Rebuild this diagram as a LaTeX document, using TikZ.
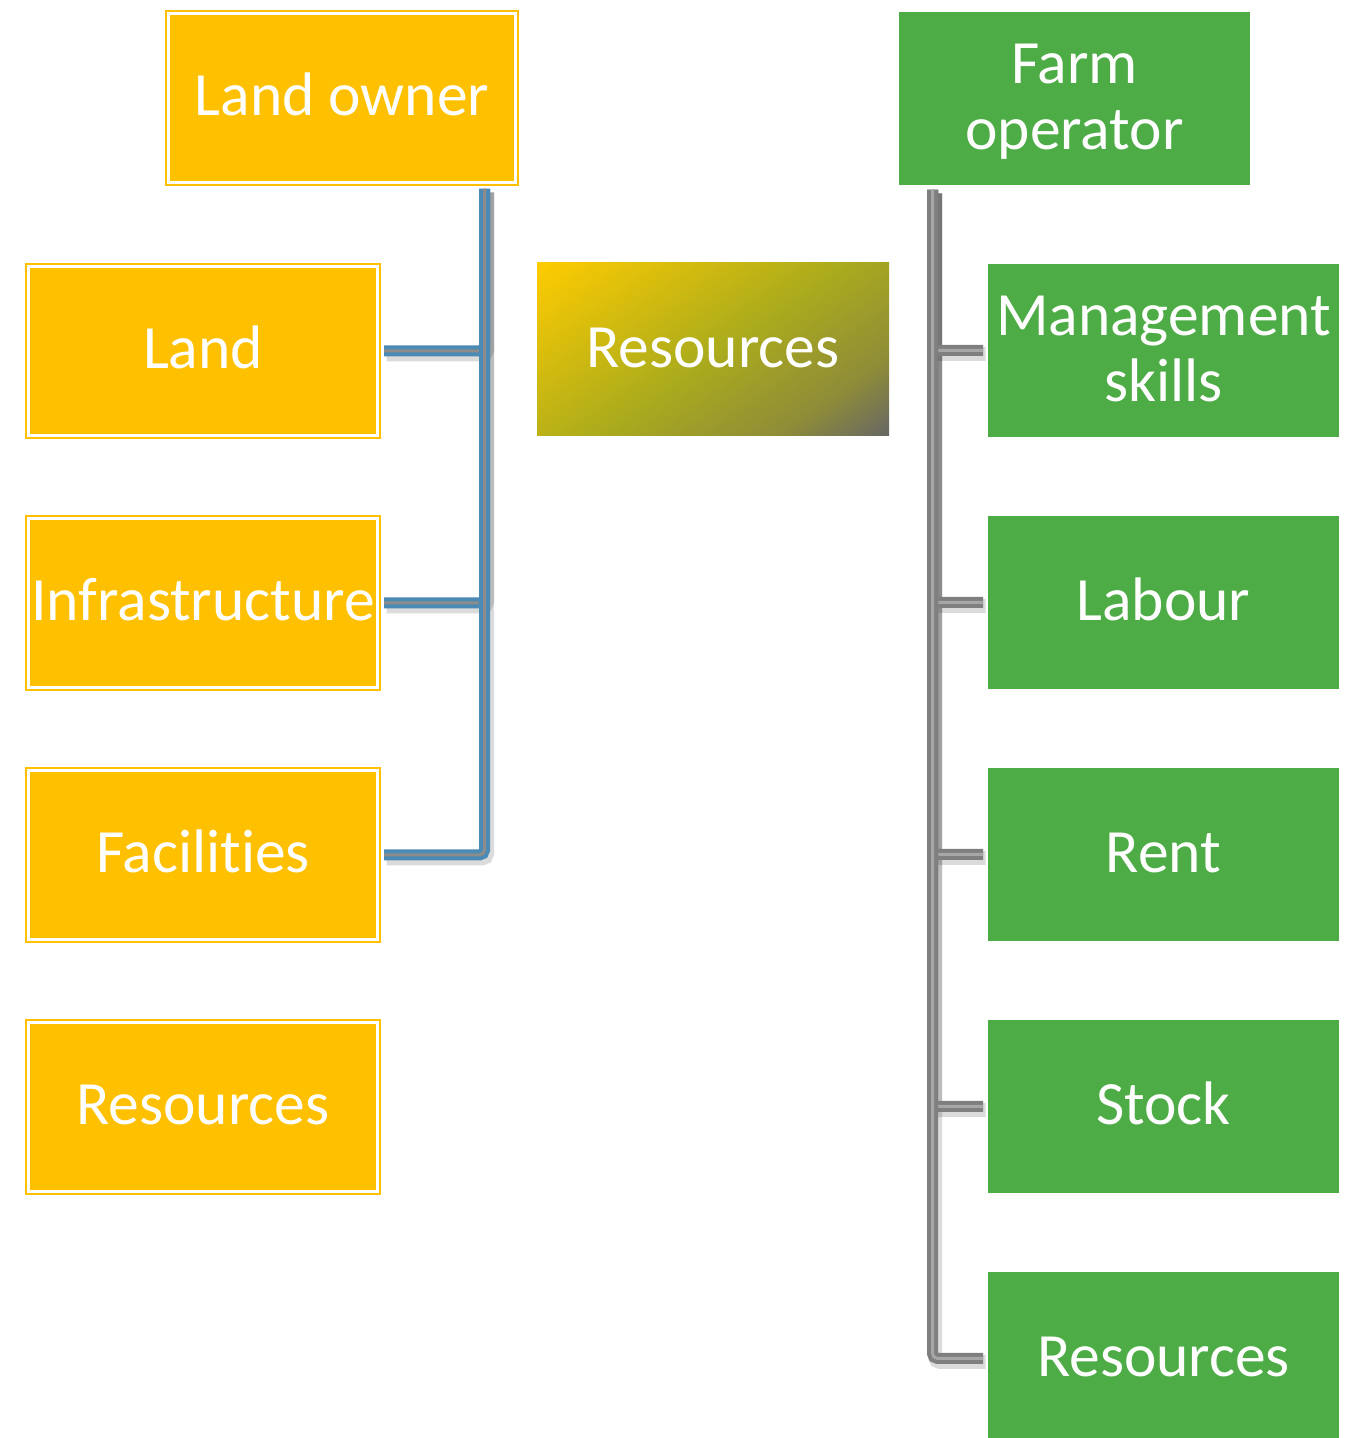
\documentclass[tikz,border=0pt]{standalone}
\usepackage{fontspec}
\setmainfont{Carlito}[Ligatures=NoCommon]
\usepackage{xcolor}
\usepackage{tikz}
\definecolor{FMYellow}{HTML}{FFC000}
\definecolor{FMGreen}{HTML}{4EAC47}
\definecolor{FMBlue}{HTML}{4A8AB5}
\definecolor{FMCore}{HTML}{8C8C8C}
\definecolor{FMGray}{HTML}{7F7F7F}
\definecolor{FMLight}{HTML}{A6A6A6}
\definecolor{FMGold}{HTML}{FFCC00}
\definecolor{FMOlive}{HTML}{ACAC1C}
\definecolor{FMDusk}{HTML}{8E8C38}
\definecolor{FMSlate}{HTML}{666666}
\pgfdeclarehorizontalshading{sharegrad}{100bp}{color(0bp)=(FMGold); color(15bp)=(FMGold); color(50bp)=(FMOlive); color(72bp)=(FMDusk); color(85bp)=(FMSlate); color(100bp)=(FMSlate)}

\begin{document}
\begin{tikzpicture}[x=1cm,y=1cm,
  boxtext/.style={text=white,font=\fontsize{35}{38}\selectfont,align=center,inner sep=0pt,outer sep=0pt,text height=1.1cm,text depth=.38cm},
  twoline/.style={text height=2.5cm,text depth=.44cm},
  ownbox/.style={boxtext,fill=FMYellow,draw=FMYellow,line width=.04cm,double=white,double distance=.06cm,minimum width=6.98cm,minimum height=3.38cm},
  opbox/.style={boxtext,fill=FMGreen,minimum width=7.02cm,minimum height=3.46cm},
  sharebox/.style={boxtext,shading=sharegrad,shading angle=-55,minimum width=7.04cm,minimum height=3.46cm},
  linkshadow/.style={draw=black,opacity=.14,line width=.28cm,rounded corners=.1cm,transform canvas={shift={(.05,-.07)}}},
  ownlink/.style={draw=FMBlue,line width=.08cm,double=FMCore,double distance=.06cm,rounded corners=.1cm},
  oplink/.style={draw=FMGray,line width=.08cm,double=FMLight,double distance=.06cm,rounded corners=.1cm}]
\path[use as bounding box] (0,0) rectangle (26.92,28.76);
\fill[white] (0,0) rectangle (26.92,28.76);
% owner side
\node[ownbox,minimum width=6.94cm] (owner) at (6.84,26.80) {Land owner};
\node[ownbox] (land) at (4.06,21.74) {Land};
\node[ownbox] (infra) at (4.06,16.70) {Infrastructure};
\node[ownbox] (facilities) at (4.06,11.66) {Facilities};
\node[ownbox] (ownres) at (4.06,6.62) {Resources};
% shared
\node[sharebox] (shared) at (14.26,21.77) {Resources};
% operator side
\node[opbox,twoline] (operator) at (21.49,26.79) {Farm\\operator};
\node[opbox,twoline] (skills) at (23.27,21.75) {Management\\skills};
\node[opbox] (labour) at (23.27,16.71) {Labour};
\node[opbox] (rent) at (23.27,11.67) {Rent};
\node[opbox] (stock) at (23.27,6.63) {Stock};
\node[opbox] (opres) at (23.27,1.59) {Resources};
\coordinate (ownerfoot) at (9.69,24.98);
\coordinate (operatorfoot) at (18.65,24.96);
% shadows
\draw[linkshadow,shorten >=.13cm] (ownerfoot) |- (land.east);
\draw[linkshadow,shorten >=.13cm] (ownerfoot) |- (infra.east);
\draw[linkshadow,shorten >=.13cm] (ownerfoot) |- (facilities.east);
\draw[linkshadow,shorten >=.1cm] (operatorfoot) |- (skills.west);
\draw[linkshadow,shorten >=.1cm] (operatorfoot) |- (labour.west);
\draw[linkshadow,shorten >=.1cm] (operatorfoot) |- (rent.west);
\draw[linkshadow,shorten >=.1cm] (operatorfoot) |- (stock.west);
\draw[linkshadow,shorten >=.1cm] (operatorfoot) |- (opres.west);
% links
\draw[ownlink,shorten >=.13cm] (ownerfoot) |- (land.east);
\draw[ownlink,shorten >=.13cm] (ownerfoot) |- (infra.east);
\draw[ownlink,shorten >=.13cm] (ownerfoot) |- (facilities.east);
\draw[oplink,shorten >=.1cm] (operatorfoot) |- (skills.west);
\draw[oplink,shorten >=.1cm] (operatorfoot) |- (labour.west);
\draw[oplink,shorten >=.1cm] (operatorfoot) |- (rent.west);
\draw[oplink,shorten >=.1cm] (operatorfoot) |- (stock.west);
\draw[oplink,shorten >=.1cm] (operatorfoot) |- (opres.west);
\end{tikzpicture}
\end{document}
